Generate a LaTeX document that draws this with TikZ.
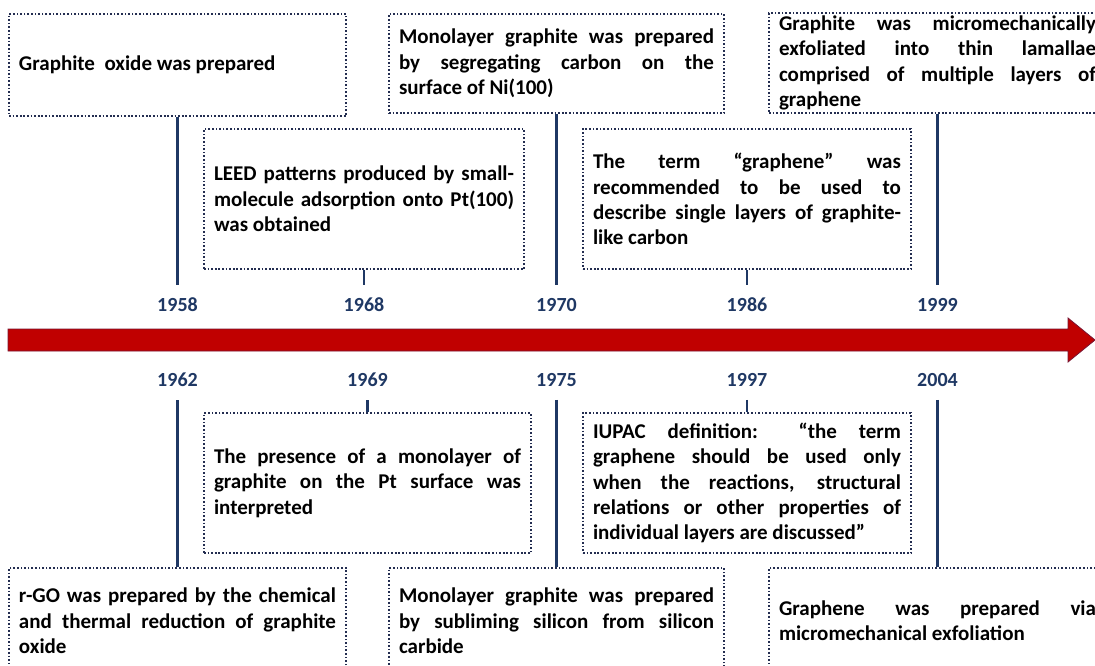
\documentclass[tikz,border=0pt]{standalone}
\usepackage{fontspec}
\setmainfont{Carlito}
\usepackage{xcolor}
\usetikzlibrary{positioning}
\definecolor{navy}{RGB}{31,56,100}
\definecolor{boxedge}{RGB}{35,45,80}
\definecolor{arrowred}{RGB}{192,0,0}
\definecolor{arrowedge}{RGB}{120,20,50}
\tolerance=9999
\hbadness=10000

\begin{document}
\begin{tikzpicture}[
  x=1pt, y=-1pt,
  box/.style ={draw=boxedge, line width=2pt, dash pattern=on 1.7pt off 1.9pt,
               anchor=north west, align=justify, inner xsep=10pt, inner ysep=0pt,
               font=\bfseries\fontsize{21}{25.3}\selectfont},
  year/.style={font=\bfseries\fontsize{20}{22}\selectfont, text=navy,
               inner xsep=0pt, inner ysep=13pt},
  link/.style={navy, line width=2.6pt},
  timeline/.style={fill=arrowred, draw=arrowedge, line width=0.8pt, line join=miter}
]
\path[use as bounding box, fill=white] (0,0) rectangle (1095,666);

% rows of year labels
\coordinate (toprow) at (0,305);
\coordinate (botrow) at (0,380);

% events above the axis
\node[box, text width=317pt, minimum height=102pt] (A) at (8,13)
  {Graphite~ oxide was prepared};
\node[box, text width=315pt, minimum height=99pt] (B) at (388,13)
  {Monolayer graphite was prepared\linebreak by segregating carbon on the\linebreak surface of Ni(100)};
\node[box, text width=317pt, minimum height=100pt] (C) at (768,12)
  {Graphite was micromechanically\linebreak exfoliated into thin lamallae\linebreak comprised of multiple layers of\linebreak graphene};
\node[box, text width=300pt, minimum height=140pt] (D) at (203,128)
  {LEED patterns produced by small-\linebreak molecule adsorption onto Pt(100)\linebreak was obtained};
\node[box, text width=308pt, minimum height=140pt] (E) at (582,128)
  {The term “graphene” was\linebreak recommended to be used to\linebreak describe single layers of graphite-\linebreak like carbon};

% events below the axis
\node[box, text width=307pt, minimum height=140pt] (F) at (203,412)
  {The presence of a monolayer of\linebreak graphite on the Pt surface was\linebreak interpreted};
\node[box, text width=308pt, minimum height=140pt] (G) at (582,412)
  {IUPAC definition: “the term\linebreak graphene should be used only\linebreak when the reactions, structural\linebreak relations or other properties of\linebreak individual layers are discussed”};
\node[box, text width=317pt, minimum height=106pt] (H) at (8,567)
  {r-GO was prepared by the chemical\linebreak and thermal reduction of graphite\linebreak oxide};
\node[box, text width=315pt, minimum height=106pt] (I) at (388,567)
  {Monolayer graphite was prepared\linebreak by subliming silicon from silicon\linebreak carbide};
\node[box, text width=317pt, minimum height=106pt] (J) at (768,567)
  {Graphene was prepared via\linebreak micromechanical exfoliation};

% years
\node[year] (y58) at (A.south |- toprow) {1958};
\node[year] (y68) at (D.south |- toprow) {1968};
\node[year] (y70) at (B.south |- toprow) {1970};
\node[year] (y86) at (E.south |- toprow) {1986};
\node[year] (y99) at (C.south |- toprow) {1999};
\node[year] (y62) at (H.north |- botrow) {1962};
\node[year] (y69) at (F.north |- botrow) {1969};
\node[year] (y75) at (I.north |- botrow) {1975};
\node[year] (y97) at (G.north |- botrow) {1997};
\node[year] (y04) at (J.north |- botrow) {2004};

% time axis
\draw[timeline] (8,329) -- (1068,329) -- (1068,318) -- (1095,340)
  -- (1068,362) -- (1068,351) -- (8,351) -- cycle;

\draw[link] (A) -- (y58);
\draw[link] (D) -- (y68);
\draw[link] (B) -- (y70);
\draw[link] (E) -- (y86);
\draw[link] (C) -- (y99);
\draw[link] (y62) -- (H);
\draw[link] (y69) -- (F);
\draw[link] (y75) -- (I);
\draw[link] (y97) -- (G);
\draw[link] (y04) -- (J);
\end{tikzpicture}
\end{document}
